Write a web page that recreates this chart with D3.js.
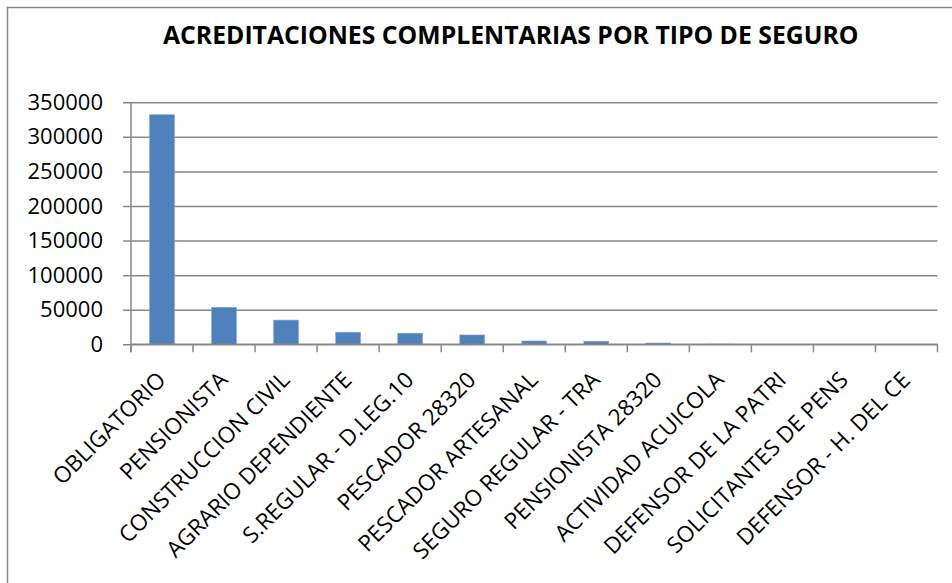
<!DOCTYPE html>
<html>
<head>
<meta charset="utf-8">
<script src="https://cdn.jsdelivr.net/npm/d3@7/dist/d3.min.js"></script>
<style>
  html, body { margin: 0; padding: 0; background: #fff; }
  svg { display: block; }
</style>
</head>
<body>
<div id="chart"></div>
<script>
const title = "ACREDITACIONES COMPLENTARIAS POR TIPO DE SEGURO";

const categories = [
  "OBLIGATORIO",
  "PENSIONISTA",
  "CONSTRUCCION CIVIL",
  "AGRARIO DEPENDIENTE",
  "S.REGULAR - D.LEG.10",
  "PESCADOR 28320",
  "PESCADOR ARTESANAL",
  "SEGURO REGULAR - TRA",
  "PENSIONISTA 28320",
  "ACTIVIDAD ACUICOLA",
  "DEFENSOR DE LA PATRI",
  "SOLICITANTES DE PENS",
  "DEFENSOR - H. DEL CE"
];

const values = [332000, 53500, 35000, 17500, 16000, 13500, 4800, 4300, 1800, 200, 100, 50, 20];

const yTicks = [0, 50000, 100000, 150000, 200000, 250000, 300000, 350000];

const width = 952;
const height = 583;
const plot = { left: 131, right: 937.5, top: 102.3, bottom: 344.3 };

const svg = d3.select("#chart")
  .append("svg")
  .attr("width", width)
  .attr("height", height)
  .style("font-family", "'Open Sans', sans-serif");

// chart frame (runs off the right and bottom edges like the original)
svg.append("rect")
  .attr("x", 7.5)
  .attr("y", 7.5)
  .attr("width", 1000)
  .attr("height", 620)
  .attr("fill", "none")
  .attr("stroke", "#868686")
  .attr("stroke-width", 1.5);

const x = d3.scaleBand()
  .domain(categories)
  .range([plot.left, plot.right])
  .paddingInner(0.6)
  .paddingOuter(0.3);

const y = d3.scaleLinear()
  .domain([0, 350000])
  .range([plot.bottom, plot.top]);

// horizontal gridlines + y axis
const yAxis = d3.axisLeft(y)
  .tickValues(yTicks)
  .tickSize(-(plot.right - plot.left))
  .tickPadding(28)
  .tickFormat(d3.format("d"));

const gy = svg.append("g")
  .attr("transform", `translate(${plot.left},0)`)
  .call(yAxis);

gy.select(".domain").remove();
gy.selectAll(".tick line")
  .attr("x1", -8)
  .attr("stroke", "#878787")
  .attr("stroke-width", 1.5);
gy.selectAll(".tick text")
  .attr("font-size", 22)
  .attr("font-family", "'Open Sans', sans-serif")
  .attr("fill", "#000");

// vertical axis line
svg.append("line")
  .attr("x1", plot.left).attr("x2", plot.left)
  .attr("y1", y(350000)).attr("y2", plot.bottom + 8)
  .attr("stroke", "#878787")
  .attr("stroke-width", 1.5);

// bars
svg.append("g")
  .selectAll("rect")
  .data(values)
  .join("rect")
  .attr("x", (d, i) => x(categories[i]))
  .attr("y", d => y(d))
  .attr("width", x.bandwidth())
  .attr("height", d => y(0) - y(d))
  .attr("fill", "#4f81bd")
  .attr("stroke", "#7fa3d0")
  .attr("stroke-width", 0.6);

// category axis with ticks between categories
const step = x.step();
const boundaries = d3.range(categories.length + 1).map(i => plot.left + i * step);

svg.append("line")
  .attr("x1", plot.left).attr("x2", plot.right)
  .attr("y1", plot.bottom).attr("y2", plot.bottom)
  .attr("stroke", "#878787")
  .attr("stroke-width", 1.5);

svg.append("g")
  .selectAll("line")
  .data(boundaries)
  .join("line")
  .attr("x1", d => d).attr("x2", d => d)
  .attr("y1", plot.bottom).attr("y2", plot.bottom + 8)
  .attr("stroke", "#878787")
  .attr("stroke-width", 1.5);

// rotated category labels
svg.append("g")
  .selectAll("text")
  .data(categories)
  .join("text")
  .attr("transform", d => `translate(${x(d) + x.bandwidth() / 2 + 5},${plot.bottom + 37}) rotate(-45)`)
  .attr("text-anchor", "end")
  .attr("font-size", 22.5)
  .attr("fill", "#000")
  .text(d => d);

// title, sized to the original width
const t = svg.append("text")
  .attr("x", 163)
  .attr("y", 43.5)
  .attr("font-weight", "bold")
  .attr("font-size", 100)
  .attr("fill", "#000")
  .text(title);
const len = t.node().getComputedTextLength();
t.attr("font-size", 100 * 696 / len);
</script>
</body>
</html>
